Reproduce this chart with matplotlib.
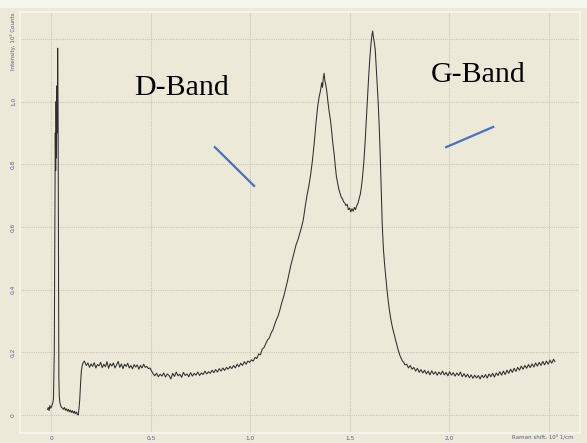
import numpy as np
import matplotlib
matplotlib.use("Agg")
import matplotlib.pyplot as plt
from matplotlib.lines import Line2D

# ---- data (Raman shift in 10^3 1/cm, intensity in 10^3 counts) ----
laser_shift = [-0.020, -0.016, -0.012, -0.008, -0.004, 0.000, 0.005, 0.010, 0.014, 0.017,
               0.019, 0.021, 0.023, 0.025, 0.027, 0.029, 0.031, 0.033, 0.035, 0.037,
               0.039, 0.042, 0.046, 0.050, 0.055, 0.060, 0.065, 0.070, 0.075, 0.080,
               0.085, 0.090, 0.095, 0.100, 0.105, 0.110, 0.115, 0.120, 0.125, 0.130, 0.134]
laser_counts = [0.018, 0.024, 0.014, 0.030, 0.022, 0.026, 0.035, 0.050, 0.200, 0.600,
                0.900, 0.780, 1.000, 0.820, 1.050, 0.900, 1.170, 0.980, 0.550, 0.120,
                0.060, 0.040, 0.030, 0.025, 0.022, 0.018, 0.024, 0.015, 0.020, 0.012,
                0.018, 0.010, 0.016, 0.008, 0.014, 0.006, 0.012, 0.004, 0.010, 0.002, 0.000]

plateau_shift = [0.138, 0.142, 0.146, 0.150, 0.155, 0.160, 0.165, 0.170,
                 0.175, 0.183, 0.191, 0.199, 0.207, 0.215, 0.223, 0.231, 0.239, 0.247,
                 0.255, 0.263, 0.271, 0.279, 0.287, 0.295, 0.303, 0.311, 0.319, 0.327,
                 0.335, 0.343, 0.351, 0.359, 0.367, 0.375, 0.383, 0.391, 0.399, 0.407,
                 0.415, 0.423, 0.431, 0.439, 0.447, 0.455, 0.463, 0.471, 0.479, 0.487,
                 0.495, 0.503, 0.511]
plateau_counts = [0.020, 0.050, 0.100, 0.140, 0.160, 0.168, 0.172, 0.165,
                  0.158, 0.166, 0.152, 0.163, 0.155, 0.167, 0.150, 0.161, 0.157, 0.168,
                  0.151, 0.162, 0.154, 0.170, 0.149, 0.164, 0.156, 0.166, 0.150, 0.160,
                  0.171, 0.152, 0.163, 0.148, 0.162, 0.155, 0.165, 0.150, 0.158, 0.147,
                  0.161, 0.153, 0.160, 0.146, 0.158, 0.150, 0.162, 0.152, 0.155, 0.148,
                  0.150, 0.140, 0.132]

base_shift = [0.519, 0.528, 0.537, 0.546, 0.555, 0.564, 0.573, 0.582, 0.591, 0.600,
              0.609, 0.618, 0.627, 0.636, 0.645, 0.654, 0.663, 0.672, 0.681, 0.690,
              0.699, 0.708, 0.717, 0.726, 0.735, 0.744, 0.753, 0.762, 0.771, 0.780,
              0.789, 0.798, 0.807, 0.816, 0.825, 0.834, 0.843, 0.852, 0.861, 0.870,
              0.879, 0.888, 0.897, 0.906, 0.915, 0.924, 0.933, 0.942, 0.951, 0.960,
              0.969, 0.978, 0.987, 0.996]
base_counts = [0.125, 0.133, 0.122, 0.130, 0.124, 0.134, 0.121, 0.131, 0.126, 0.115,
               0.133, 0.123, 0.137, 0.125, 0.130, 0.120, 0.136, 0.126, 0.131, 0.122,
               0.135, 0.124, 0.133, 0.127, 0.137, 0.126, 0.134, 0.129, 0.140, 0.131,
               0.138, 0.133, 0.143, 0.135, 0.145, 0.137, 0.148, 0.140, 0.150, 0.142,
               0.152, 0.146, 0.155, 0.148, 0.158, 0.150, 0.162, 0.154, 0.165, 0.158,
               0.170, 0.162, 0.172, 0.168]

bands_shift = [1.005, 1.014, 1.023, 1.032, 1.041, 1.050, 1.059, 1.068, 1.077, 1.086,
               1.095, 1.104, 1.113, 1.122, 1.131, 1.140, 1.149, 1.158, 1.167, 1.176,
               1.185, 1.194, 1.203, 1.212, 1.221, 1.230, 1.239, 1.248, 1.257, 1.266,
               1.275, 1.284, 1.293, 1.302, 1.311, 1.320, 1.329, 1.338, 1.345, 1.352,
               1.358, 1.362, 1.366, 1.370, 1.374, 1.378, 1.384, 1.390, 1.396, 1.402,
               1.408, 1.414, 1.420, 1.426, 1.432, 1.438, 1.444, 1.450, 1.456, 1.462,
               1.468, 1.474, 1.480, 1.486, 1.492, 1.498, 1.504, 1.510, 1.516, 1.522,
               1.528, 1.534, 1.540, 1.546, 1.552, 1.558, 1.564, 1.570, 1.576, 1.582,
               1.588, 1.594, 1.600, 1.605, 1.610, 1.614, 1.618, 1.622, 1.627, 1.632,
               1.637, 1.642, 1.647, 1.652, 1.657, 1.662, 1.668, 1.674, 1.680, 1.686,
               1.692, 1.698, 1.704, 1.710, 1.716, 1.722, 1.728, 1.734, 1.740, 1.746,
               1.752, 1.758, 1.764, 1.770, 1.776]
bands_counts = [0.176, 0.172, 0.184, 0.180, 0.195, 0.192, 0.210, 0.215, 0.228, 0.240,
                0.246, 0.262, 0.272, 0.290, 0.305, 0.318, 0.338, 0.360, 0.378, 0.402,
                0.425, 0.452, 0.478, 0.500, 0.522, 0.545, 0.560, 0.580, 0.600, 0.625,
                0.665, 0.700, 0.730, 0.765, 0.810, 0.865, 0.930, 0.985, 1.015, 1.035,
                1.060, 1.045, 1.075, 1.090, 1.065, 1.055, 1.030, 0.995, 0.965, 0.940,
                0.905, 0.865, 0.835, 0.795, 0.760, 0.740, 0.720, 0.708, 0.695, 0.690,
                0.680, 0.676, 0.668, 0.672, 0.655, 0.660, 0.648, 0.658, 0.650, 0.662,
                0.655, 0.668, 0.675, 0.690, 0.705, 0.730, 0.765, 0.810, 0.870, 0.940,
                1.010, 1.080, 1.140, 1.180, 1.210, 1.225, 1.205, 1.190, 1.165, 1.110,
                1.050, 0.995, 0.920, 0.830, 0.720, 0.610, 0.530, 0.480, 0.440, 0.400,
                0.365, 0.335, 0.310, 0.290, 0.272, 0.258, 0.242, 0.228, 0.212, 0.200,
                0.188, 0.180, 0.172, 0.168, 0.160]

tail_shift = [1.785, 1.794, 1.803, 1.812, 1.821, 1.830, 1.839, 1.848, 1.857, 1.866,
              1.875, 1.884, 1.893, 1.902, 1.911, 1.920, 1.929, 1.938, 1.947, 1.956,
              1.965, 1.974, 1.983, 1.992, 2.001, 2.010, 2.019, 2.028, 2.037, 2.046,
              2.055, 2.064, 2.073, 2.082, 2.091, 2.100, 2.109, 2.118, 2.127, 2.136,
              2.145, 2.154, 2.163, 2.172, 2.181, 2.190, 2.199, 2.208, 2.217, 2.226,
              2.235, 2.244, 2.253, 2.262, 2.271, 2.280, 2.289, 2.298, 2.307, 2.316,
              2.325, 2.334, 2.343, 2.352, 2.361, 2.370, 2.379, 2.388, 2.397, 2.406,
              2.415, 2.424, 2.433, 2.442, 2.451, 2.460, 2.469, 2.478, 2.487, 2.496,
              2.505, 2.514, 2.523, 2.530]
tail_counts = [0.162, 0.150, 0.158, 0.146, 0.152, 0.140, 0.149, 0.136, 0.145, 0.134,
               0.143, 0.131, 0.140, 0.128, 0.141, 0.130, 0.138, 0.127, 0.137, 0.129,
               0.140, 0.128, 0.136, 0.125, 0.138, 0.127, 0.135, 0.124, 0.134, 0.126,
               0.137, 0.122, 0.132, 0.121, 0.130, 0.119, 0.128, 0.117, 0.127, 0.118,
               0.126, 0.115, 0.127, 0.119, 0.129, 0.118, 0.131, 0.122, 0.133, 0.121,
               0.134, 0.126, 0.138, 0.127, 0.140, 0.129, 0.143, 0.133, 0.146, 0.136,
               0.149, 0.139, 0.152, 0.143, 0.156, 0.146, 0.158, 0.149, 0.161, 0.151,
               0.163, 0.153, 0.166, 0.156, 0.168, 0.158, 0.171, 0.160, 0.172, 0.162,
               0.175, 0.165, 0.178, 0.170]

x_ticks = [0.0, 0.5, 1.0, 1.5, 2.0]
x_tick_labels = ["0", "0,5", "1,0", "1,5", "2,0"]
y_ticks = [0.0, 0.2, 0.4, 0.6, 0.8, 1.0]
y_tick_labels = ["0", "0,2", "0,4", "0,6", "0,8", "1,0"]
x_grid = [0.0, 0.5, 1.0, 1.5, 2.0, 2.5]
y_grid = [0.0, 0.2, 0.4, 0.6, 0.8, 1.0, 1.2]

shift = np.concatenate([laser_shift, plateau_shift, base_shift, bands_shift, tail_shift])
counts = np.concatenate([laser_counts, plateau_counts, base_counts, bands_counts, tail_counts])

# ---- figure ----
BG = "#ECE9D8"
W, H = 587, 443
fig = plt.figure(figsize=(W / 100, H / 100), dpi=100, facecolor=BG)
# light strip at the very top of the screenshot
fig.patches.append(plt.Rectangle((0, 1 - 8 / H), 1, 8 / H, transform=fig.transFigure,
                                 facecolor="#F6F5EF", edgecolor="none", zorder=0))

ax = fig.add_axes([20 / W, 10 / H, 560 / W, 421 / H], facecolor=BG)
ax.set_xlim(-0.1583, 2.656)
ax.set_ylim(-0.0574, 1.2855)

for s in ax.spines.values():
    s.set_color("#F8F7F0")
    s.set_linewidth(1.2)

for gx in x_grid:
    ax.axvline(gx, color="#C9C6B5", lw=0.8, ls=(0, (1, 1)), zorder=1)
for gy in y_grid:
    ax.axhline(gy, color="#C9C6B5", lw=0.8, ls=(0, (1, 1)), zorder=1)

ax.plot(shift, counts, color="#2E2E2E", lw=0.75, zorder=3)

ax.set_xticks(x_ticks)
ax.set_xticklabels(x_tick_labels)
ax.set_yticks(y_ticks)
ax.set_yticklabels(y_tick_labels, rotation=90, va="center")
ax.tick_params(axis="both", length=0, labelsize=4.2, labelcolor="#5A5AA0")
ax.tick_params(axis="x", pad=2)
ax.tick_params(axis="y", pad=3)

fig.text(13 / W, 1 - 13 / H, "Intensity, 10³ Counts", rotation=90, ha="center", va="top",
         fontsize=4.0, color="#5A5A7A")
fig.text(543 / W, 1 - 437 / H, "Raman shift, 10³ 1/cm", ha="center", va="center",
         fontsize=4.0, color="#5A5A7A")

# annotations
ax.text(0.289, 0.819, "D-Band", transform=ax.transAxes, ha="center", va="center",
        fontsize=21.5, family="Liberation Serif", color="black")
ax.text(0.818, 0.850, "G-Band", transform=ax.transAxes, ha="center", va="center",
        fontsize=21.5, family="Liberation Serif", color="black")
ax.add_line(Line2D([0.348, 0.418], [0.679, 0.587], transform=ax.transAxes,
                   color="#4472C4", lw=1.6))
ax.add_line(Line2D([0.761, 0.845], [0.679, 0.727], transform=ax.transAxes,
                   color="#4472C4", lw=1.6))

fig.savefig("out.png", dpi=100, facecolor=BG)
